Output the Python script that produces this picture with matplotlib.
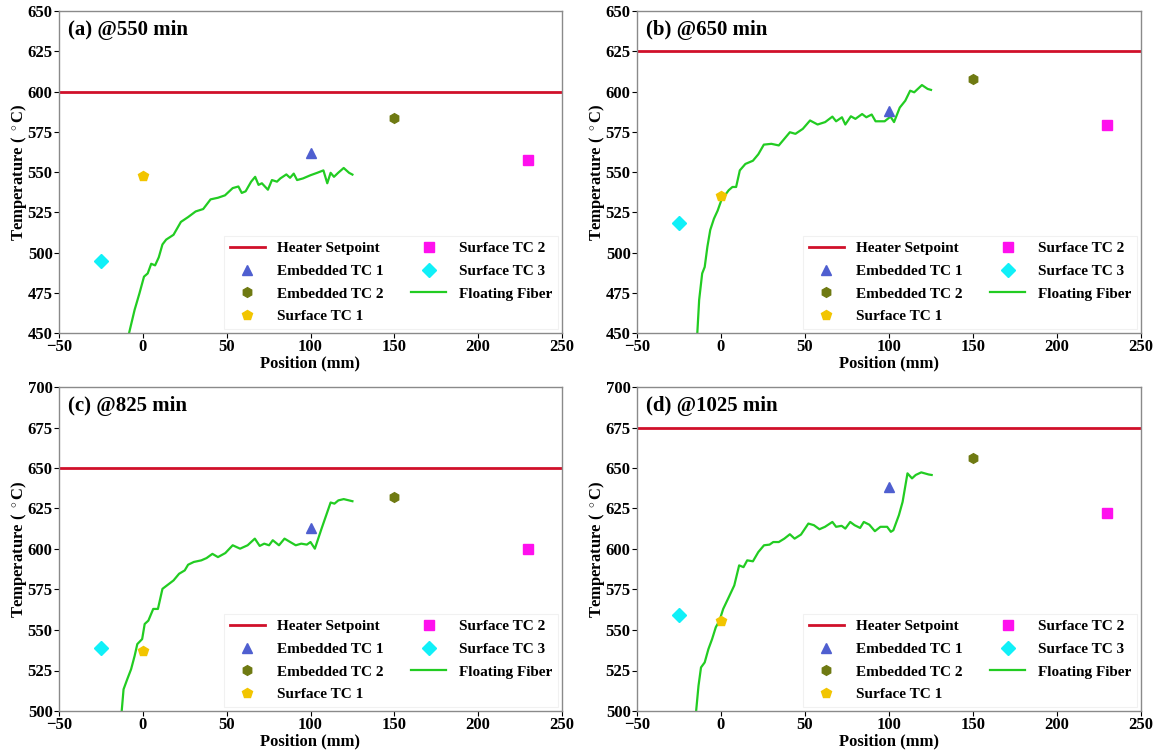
import matplotlib
matplotlib.use("Agg")
import matplotlib.pyplot as plt

plt.rcParams["font.family"] = ["Liberation Serif", "DejaVu Serif"]
plt.rcParams["font.weight"] = "bold"
plt.rcParams["mathtext.fontset"] = "custom"
plt.rcParams["mathtext.rm"] = "Liberation Serif:bold"
plt.rcParams["mathtext.it"] = "Liberation Serif:bold"
plt.rcParams["mathtext.bf"] = "Liberation Serif:bold"

# ---- data ----
panel_titles = ["(a) @550 min", "(b) @650 min", "(c) @825 min", "(d) @1025 min"]
y_limits = [(450, 650), (450, 650), (500, 700), (500, 700)]
setpoints = [600, 625, 650, 675]

tc_positions = [100, 150, 0, 230, -25]  # Embedded TC1, Embedded TC2, Surface TC1, Surface TC2, Surface TC3
embedded_tc1 = [562, 588, 613, 638]
embedded_tc2 = [583.5, 607.5, 632, 656]
surface_tc1 = [547.5, 535, 537, 555.5]
surface_tc2 = [557.5, 579, 600, 622.5]
surface_tc3 = [495, 518.5, 539, 559.5]

fiber_pos_a = [-8.2, -4.9, -2.0, 0.7, 2.9, 5.0, 7.3, 9.5, 11.7, 13.9, 18.3, 22.7, 27.0, 31.5,
               36.0, 40.4, 44.8, 49.0, 53.6, 57.0, 59.0, 61.3, 64.6, 67.0, 69.0, 71.0, 74.6,
               77.0, 80.0, 82.0, 85.6, 87.8, 90.0, 92.0, 95.5, 100.0, 104.0, 107.7, 110.0,
               112.0, 114.0, 116.5, 119.8, 123.0, 125.0]
fiber_temp_a = [450, 464.4, 474.7, 485, 487, 493, 492, 497, 505, 508, 511, 519, 522, 525.5,
                527, 533, 534, 535.5, 540, 541, 537, 538, 544, 547, 542, 543, 539,
                545, 544, 546, 548.5, 546.4, 549, 545, 546, 548, 549.5, 551, 543,
                549.5, 547, 549.5, 552.5, 549.5, 548.4]

fiber_pos_b = [-14.1, -13.0, -11.2, -9.7, -8.1, -6.4, -4.2, -2.0, 0.2, 2.4, 4.6, 6.8, 9.0,
               11.2, 14.5, 19.0, 22.2, 25.5, 30.0, 34.4, 37.7, 41.0, 44.3, 48.7, 53.0, 57.5,
               62.0, 66.3, 68.5, 72.0, 74.0, 77.3, 80.0, 84.0, 86.5, 89.7, 92.0, 97.4, 100.9,
               103.0, 106.4, 109.7, 112.6, 115.0, 119.6, 123.0, 125.0]
fiber_temp_b = [450, 470.6, 487, 491, 503.6, 514, 521, 526, 532.5, 535.6, 538.7, 540.7, 540.7,
                551, 555, 557, 561, 567, 567.5, 566.5, 570.6, 574.7, 573.7, 576.8, 582, 579.5,
                581, 584.4, 581.5, 584, 579.5, 584.6, 583, 586, 584, 585.7, 581.5, 581.5, 584.4,
                581, 590, 594.3, 600.5, 599.5, 604, 601.6, 601]

fiber_pos_c = [-12.6, -11.5, -9.3, -7.0, -4.9, -3.3, -0.4, 1.1, 3.3, 6.2, 9.0, 11.7, 15.0,
               18.3, 21.6, 25.0, 27.0, 30.4, 34.9, 38.0, 41.5, 44.8, 49.2, 53.6, 58.0, 62.5,
               66.8, 69.7, 72.4, 75.3, 77.5, 81.2, 84.5, 87.9, 91.2, 94.5, 97.8, 100.0, 102.6,
               106.6, 112.0, 114.3, 116.6, 119.8, 125.0]
fiber_temp_c = [500, 513.4, 519.6, 525.8, 534, 541.3, 544.4, 553.7, 555.8, 563, 563, 575.4, 578,
                580.6, 584.7, 586.8, 590.3, 592, 593, 594.4, 597, 595, 597.5, 602.3, 600.2, 602.3,
                606.4, 601.9, 603.3, 602.3, 605.4, 602.3, 606.4, 604.3, 602.3, 603.3, 602.7, 604.3, 600.2,
                612.6, 628.7, 628, 630, 630.8, 629.5]

fiber_pos_d = [-14.8, -13.4, -11.9, -9.7, -7.5, -5.3, -3.1, -0.9, 1.3, 4.6, 7.9, 10.8, 13.4,
               15.6, 19.0, 22.2, 25.6, 28.9, 31.1, 34.4, 37.7, 41.0, 43.8, 47.6, 52.0, 55.3,
               58.6, 61.9, 66.3, 68.5, 71.8, 74.0, 76.9, 79.5, 82.8, 85.0, 88.3, 91.6, 94.9,
               98.9, 101.1, 102.6, 105.9, 108.1, 111.0, 113.7, 115.9, 119.2, 123.6, 125.4]
fiber_temp_d = [500, 515.5, 526.9, 530, 538.2, 544.4, 551.7, 555.8, 563, 570.2, 577.5, 589.9, 588.8,
                593, 592.4, 598.1, 602.3, 602.7, 604.3, 604.3, 606.4, 609.1, 606.4, 608.9, 615.7, 614.7,
                612.2, 613.7, 616.7, 613.7, 614.3, 612.6, 616.7, 614.7, 613, 616.7, 615, 611, 613.7,
                613.7, 610.6, 611.6, 620.9, 629.1, 646.7, 643.6, 645.7, 647.3, 646, 645.7]

fiber_positions = [fiber_pos_a, fiber_pos_b, fiber_pos_c, fiber_pos_d]
fiber_temps = [fiber_temp_a, fiber_temp_b, fiber_temp_c, fiber_temp_d]

x_ticks = [-50, 0, 50, 100, 150, 200, 250]

# ---- figure ----
fig = plt.figure(figsize=(11.56, 7.5), dpi=100)
W, H = 1156, 750
boxes = [(59, 11, 562, 333), (637, 11, 1141, 333),
         (59, 387, 562, 711), (637, 387, 1141, 711)]

for i, (l, t, r, b) in enumerate(boxes):
    ax = fig.add_axes([l / W, 1 - b / H, (r - l) / W, (b - t) / H])
    ax.axhline(setpoints[i], color="#d0102a", lw=2.0, label="Heater Setpoint", zorder=2)
    ax.plot(tc_positions[0], embedded_tc1[i], ls="none", marker="^", ms=7,
            color="#4f5fd0", label="Embedded TC 1", zorder=3)
    ax.plot(tc_positions[1], embedded_tc2[i], ls="none", marker="h", ms=7,
            color="#6f7a12", label="Embedded TC 2", zorder=3)
    ax.plot(tc_positions[2], surface_tc1[i], ls="none", marker="p", ms=7,
            color="#f2c500", label="Surface TC 1", zorder=3)
    ax.plot(tc_positions[3], surface_tc2[i], ls="none", marker="s", ms=7,
            color="#ff10ee", label="Surface TC 2", zorder=3)
    ax.plot(tc_positions[4], surface_tc3[i], ls="none", marker="D", ms=7,
            color="#10f0f8", label="Surface TC 3", zorder=3)
    ax.plot(fiber_positions[i], fiber_temps[i], color="#22cc22", lw=1.6,
            label="Floating Fiber", zorder=2.5)

    ax.set_xlim(-50, 250)
    ax.set_ylim(*y_limits[i])
    ax.set_xticks(x_ticks)
    ax.set_yticks(range(y_limits[i][0], y_limits[i][1] + 1, 25))
    ax.tick_params(labelsize=12, length=3.5, width=0.8, pad=1)
    for lab in ax.get_xticklabels() + ax.get_yticklabels():
        lab.set_fontweight("bold")
    for sp in ax.spines.values():
        sp.set_color("#8a8a8a")
        sp.set_linewidth(1.0)

    ax.set_xlabel("Position (mm)", fontsize=12, fontweight="bold", labelpad=0)
    ax.set_ylabel(r"Temperature ( $^\circ$C)", fontsize=12, fontweight="bold", labelpad=-1)
    ax.text(0.018, 0.972, panel_titles[i], transform=ax.transAxes, ha="left", va="top",
            fontsize=15, fontweight="bold")

    leg = ax.legend(loc="lower right", ncol=2, fontsize=11, frameon=True,
                    handlelength=2.3, labelspacing=0.58, columnspacing=1.8,
                    borderaxespad=0.25, fancybox=False)
    leg.get_frame().set_edgecolor("#eeeeee")
    leg.get_frame().set_linewidth(0.8)
    for txt in leg.get_texts():
        txt.set_fontweight("bold")

fig.savefig("out.png", dpi=100)
